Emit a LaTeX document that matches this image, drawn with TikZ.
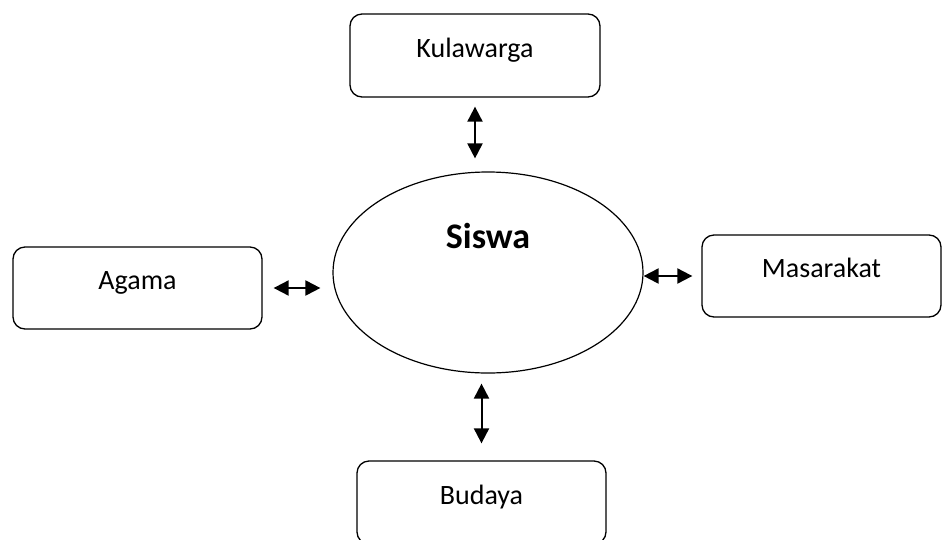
\documentclass[tikz,border=0pt]{standalone}
\usepackage{fontspec}
\setmainfont{Carlito}
\usetikzlibrary{shapes.geometric,arrows.meta}

\tikzset{
  entity/.style={draw, line width=1.3pt, rounded corners=12pt, inner sep=0pt,
                 text height=21pt, text depth=18pt,
                 font=\fontsize{28}{34}\selectfont},
  link/.style={line width=2pt, {Triangle[length=15pt,width=15pt]}-{Triangle[length=15pt,width=15pt]}}
}

\begin{document}
\begin{tikzpicture}[x=1pt,y=-1pt]
  \clip (0,0) rectangle (943,539);

  % centre
  \node[draw, ellipse, line width=1.2pt, inner sep=0pt,
        minimum width=310pt, minimum height=201pt,
        text height=27pt, text depth=75pt,
        font=\fontsize{36}{42}\selectfont\bfseries] (siswa) at (488,272.5) {Siswa};

  % around it
  \node[entity, minimum width=250pt, minimum height=83pt] (kul) at (475,55.5) {Kulawarga};
  \node[entity, minimum width=249pt, minimum height=82pt] (aga) at (137.5,288) {Agama};
  \node[entity, minimum width=239pt, minimum height=82pt] (mas) at (821.5,276) {Masarakat};
  \node[entity, minimum width=249pt, minimum height=83pt] (bud) at (481.5,502.5) {Budaya};

  \draw[link, shorten <=9pt, shorten >=13pt] (kul.south) -- (kul.south |- siswa.north);
  \draw[link, shorten <=11pt, shorten >=12pt] (aga.east) -- (aga.east -| siswa.west);
  \draw[link, shorten <=9pt, shorten >=0pt] (mas.west) -- (mas.west -| siswa.east);
  \draw[link, shorten <=17pt, shorten >=10pt] (bud.north) -- (bud.north |- siswa.south);
\end{tikzpicture}
\end{document}
